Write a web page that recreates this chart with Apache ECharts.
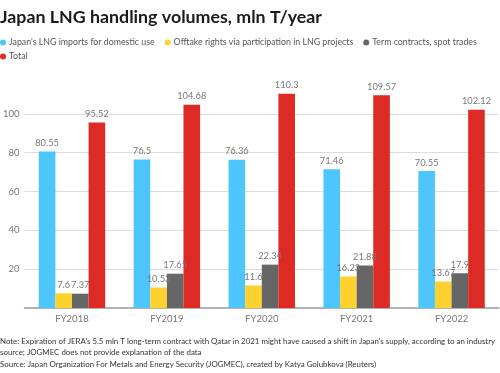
<!DOCTYPE html>
<html><head><meta charset="utf-8">
<script src="https://cdn.jsdelivr.net/npm/echarts@6/dist/echarts.min.js"></script>
<style>html,body{margin:0;padding:0;background:#fff}#c{width:500px;height:373px}</style>
</head><body><div id="c"></div>
<script>
const categories = ['FY2018','FY2019','FY2020','FY2021','FY2022'];
const imports = [80.55, 76.5, 76.36, 71.46, 70.55];
const offtake = [7.6, 10.53, 11.6, 16.23, 13.67];
const termSpot = [7.37, 17.65, 22.34, 21.88, 17.9];
const total = [95.52, 104.68, 110.3, 109.57, 102.12];
const seriesNames = ["Japan's LNG imports for domestic use", 'Offtake rights via participation in LNG projects', 'Term contracts, spot trades', 'Total'];
const colors = ['#4cc6fd', '#fdd22e', '#666666', '#de2a25'];
const noteLines = [
  "Note: Expiration of JERA's 5.5 mln T long-term contract with Qatar in 2021 might have caused a shift in Japan's supply, according to an industry",
  "source; JOGMEC does not provide explanation of the data",
  "Source: Japan Organization For Metals and Energy Security (JOGMEC), created by Katya Golubkova (Reuters)"
];
const FONT = 'Lato';
const chart = echarts.init(document.getElementById('c'));
const values = [imports, offtake, termSpot, total];
const legendText = {fontFamily: FONT, fontSize: 8.8, color: '#555', padding: [0,0,0,-2]};
chart.setOption({
  animation: false,
  color: colors,
  textStyle: {fontFamily: FONT},
  title: {text: 'Japan LNG handling volumes, mln T/year', left: 0, top: 8, padding: 0,
    textStyle: {fontFamily: FONT, fontWeight: 'bold', fontSize: 17.8, color: '#1a1a1a'}},
  legend: [
    {data: seriesNames.slice(0,3), left: 0, top: 38, width: 600, padding: 0, icon: 'circle', itemWidth: 6, itemHeight: 6, itemGap: 10,
     textStyle: legendText},
    {data: seriesNames.slice(3), left: 0, top: 52, padding: 0, icon: 'circle', itemWidth: 6, itemHeight: 6,
     textStyle: legendText}
  ],
  grid: {left: 19, right: 1, top: 75, bottom: 65, containLabel: false},
  xAxis: {type: 'category', data: categories,
    axisTick: {show: false},
    axisLine: {lineStyle: {color: '#999', width: 1.5}},
    axisLabel: {color: '#777', fontSize: 9.5, margin: 6, fontFamily: FONT}},
  yAxis: {type: 'value', min: 0, max: 120, interval: 20,
    axisLabel: {showMinLabel: false, showMaxLabel: false, color: '#777', fontSize: 9.5, margin: 5, fontFamily: FONT},
    splitLine: {showMinLine: false, showMaxLine: false, lineStyle: {color: '#ddd', width: 1}}},
  graphic: noteLines.map((t, i) => ({type: 'text', left: 0, top: 337 + i * 11.7,
    style: {text: t, fontFamily: FONT, fontSize: 7.9, fill: '#333'}})),
  series: values.map((v, i) => ({
    name: seriesNames[i], type: 'bar', data: v,
    barGap: '0%', barCategoryGap: '30%',
    label: {show: true, position: 'top', distance: 4, color: '#777', fontSize: 9.3, fontFamily: FONT}
  }))
});
</script></body></html>
